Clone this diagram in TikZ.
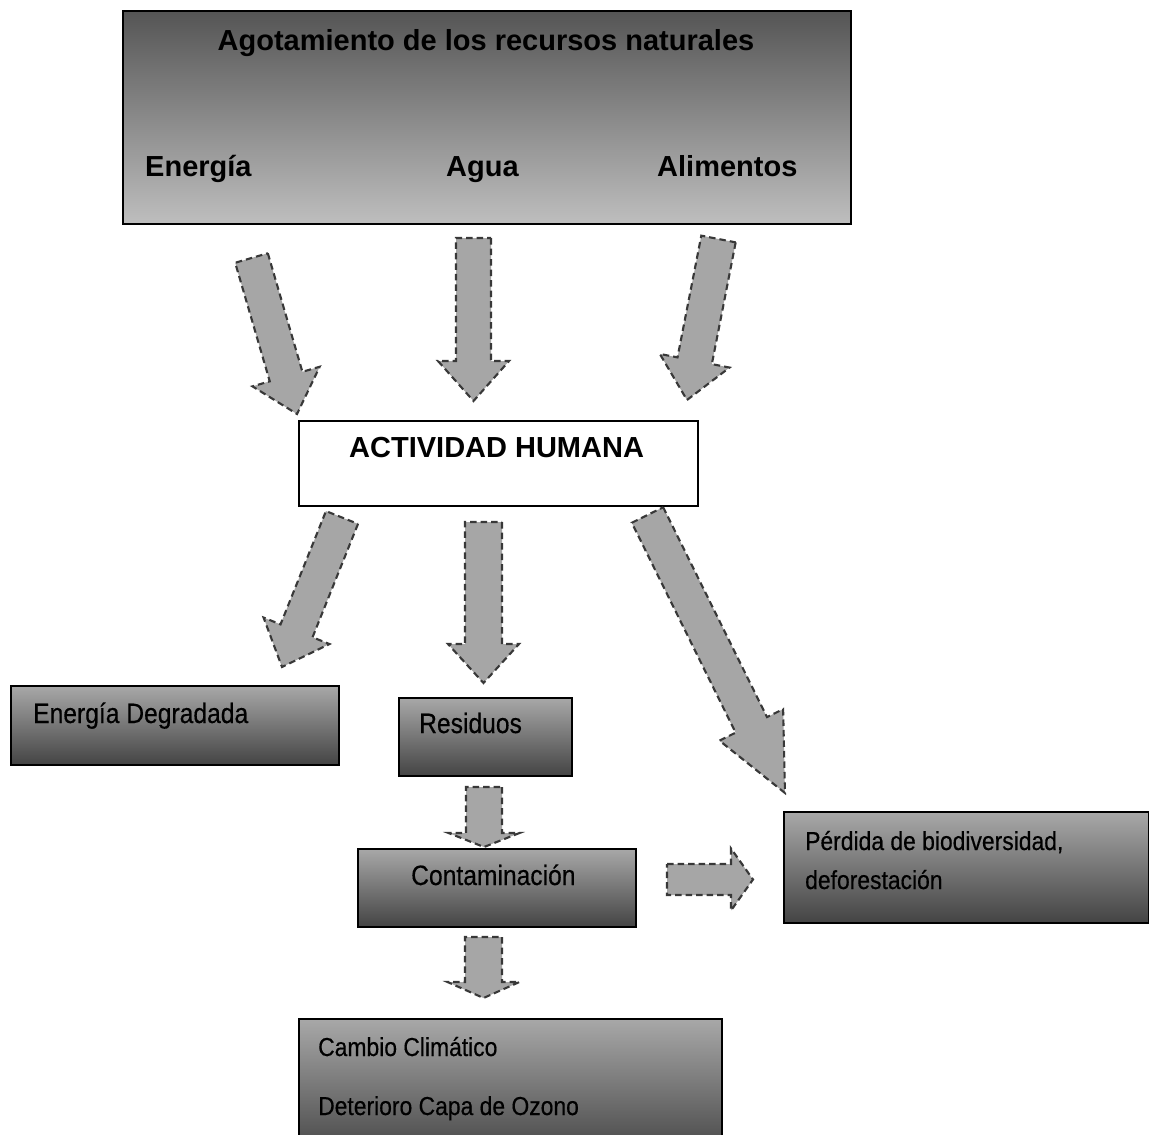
\documentclass[tikz,border=0pt]{standalone}
\usepackage{fontspec}
\setmainfont{Liberation Sans}
\newfontfamily\narrowfont[FakeStretch=0.88,FakeBold=0.4]{Liberation Sans}
\usetikzlibrary{calc}

\definecolor{headtop}{HTML}{555555}
\definecolor{headbottom}{HTML}{BEBEBE}
\definecolor{boxtop}{HTML}{A8A8A8}
\definecolor{boxbottom}{HTML}{444444}
\definecolor{arrowfill}{HTML}{A6A6A6}
\definecolor{arrowedge}{HTML}{383838}

\tikzset{
  headbox/.style={draw=black, line width=2pt, rectangle, inner sep=0pt,
    anchor=north west, top color=headtop, bottom color=headbottom},
  whitebox/.style={draw=black, line width=2pt, rectangle, inner sep=0pt,
    anchor=north west, fill=white},
  darkbox/.style={draw=black, line width=1.6pt, rectangle, inner sep=0pt,
    anchor=north west, top color=boxtop, bottom color=boxbottom},
  boldlabel/.style={inner sep=0pt, font=\fontsize{29}{34}\selectfont\bfseries},
  narrowlabel/.style={inner sep=0pt, anchor=base west,
    font=\narrowfont\fontsize{28}{33}\selectfont},
  smalllabel/.style={inner sep=0pt, anchor=base west,
    font=\narrowfont\fontsize{26}{31}\selectfont},
  blockarr/.style={fill=arrowfill, draw=arrowedge, line width=2.1pt,
    dash pattern=on 6.5pt off 4pt, line join=miter},
}

% block arrow: #1 tail, #2 tip, #3 half shaft width, #4 half head width, #5 head length
\newcommand\blockarrow[5]{%
  \coordinate (#1-neck) at ($(#2)!#5!(#1)$);
  \draw[blockarr] ($(#1)!#3!90:(#2)$) -- ($(#1-neck)!#3!-90:(#1)$)
    -- ($(#1-neck)!#4!-90:(#1)$) -- (#2) -- ($(#1-neck)!#4!90:(#1)$)
    -- ($(#1-neck)!#3!90:(#1)$) -- ($(#1)!#3!-90:(#2)$) -- cycle;
}

\begin{document}
\begin{tikzpicture}[x=1pt, y=-1pt]
\clip (0,0) rectangle (1149,1135);
\fill[white] (0,0) rectangle (1149,1135);

% boxes
\node[headbox, minimum width=728pt, minimum height=213pt] (recursos) at (122,10) {};
\node[whitebox, minimum width=399pt, minimum height=85pt] (actividad) at (298,420) {};
\node[darkbox, minimum width=328pt, minimum height=79pt] (degradada) at (10,685) {};
\node[darkbox, minimum width=173pt, minimum height=78pt] (residuos) at (398,697) {};
\node[darkbox, minimum width=278pt, minimum height=78pt] (contaminacion) at (357,848) {};
\node[darkbox, minimum width=365pt, minimum height=111pt] (perdida) at (783,811) {};
\node[darkbox, minimum width=423pt, minimum height=140pt] (cambio) at (298,1018) {};

% labels
\node[boldlabel, anchor=base] (titulo) at (486,50) {Agotamiento de los recursos naturales};
\node[boldlabel, anchor=base west] (energia) at (145,176) {Energía};
\node[boldlabel, anchor=base west] (agua) at (446,176) {Agua};
\node[boldlabel, anchor=base west] (alimentos) at (657,176) {Alimentos};
\node[boldlabel, anchor=base west] (actividadtxt) at (349,457) {ACTIVIDAD HUMANA};
\node[narrowlabel] (degradadatxt) at (33,723) {Energía Degradada};
\node[narrowlabel] (residuostxt) at (419,733) {Residuos};
\node[narrowlabel] (contaminaciontxt) at (411,885) {Contaminación};
\node[smalllabel] (perdidatxt) at (805,850) {Pérdida de biodiversidad,};
\node[smalllabel] (deforesttxt) at (805,889) {deforestación};
\node[smalllabel] (cambiotxt) at (318,1056) {Cambio Climático};
\node[smalllabel] (ozonotxt) at (318,1115) {Deterioro Capa de Ozono};

% arrow ends
\coordinate (a1) at (251.5,258);   \coordinate (b1) at (297,414);
\coordinate (a2) at (473.5,238);   \coordinate (b2) at (473.5,401);
\coordinate (a3) at (718.5,239);   \coordinate (b3) at (687,400);
\coordinate (a4) at (342,517.5);   \coordinate (b4) at (282,667);
\coordinate (a5) at (483.5,522);   \coordinate (b5) at (483.5,683);
\coordinate (a6) at (647.5,515);   \coordinate (b6) at (785,793);
\coordinate (a7) at (484,787);     \coordinate (b7) at (484,847);
\coordinate (a8) at (667,879.5);   \coordinate (b8) at (753,879.5);
\coordinate (a9) at (483.5,937);   \coordinate (b9) at (483.5,998);

% arrows
\blockarrow{a1}{b1}{17pt}{35pt}{39pt}
\blockarrow{a2}{b2}{17.5pt}{35.5pt}{40pt}
\blockarrow{a3}{b3}{17.5pt}{35.5pt}{40pt}
\blockarrow{a4}{b4}{17.25pt}{35.5pt}{39pt}
\blockarrow{a5}{b5}{18.5pt}{35.5pt}{39pt}
\blockarrow{a6}{b6}{17.5pt}{35.5pt}{76pt}
\blockarrow{a7}{b7}{18pt}{35.5pt}{14pt}
\blockarrow{a8}{b8}{15.5pt}{31pt}{22pt}
\blockarrow{a9}{b9}{18.5pt}{36pt}{16pt}
\end{tikzpicture}
\end{document}
